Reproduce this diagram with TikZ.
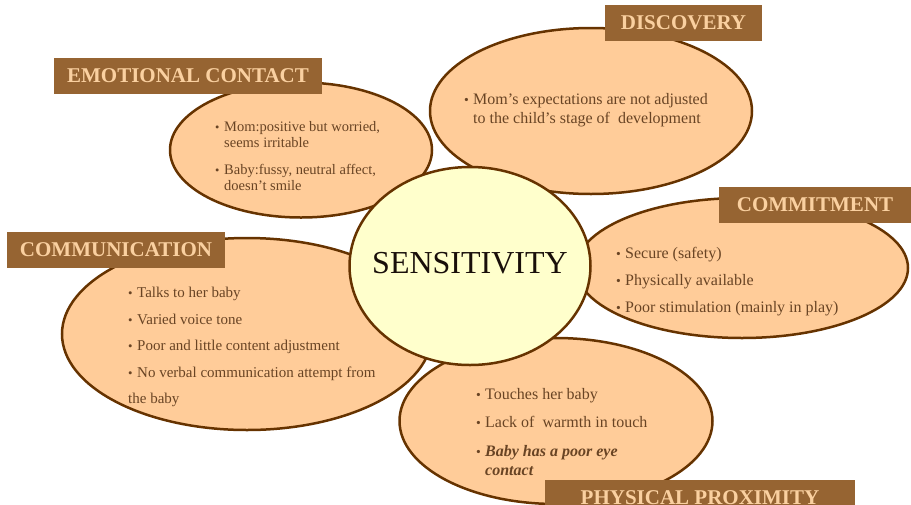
\documentclass[tikz,border=0pt]{standalone}
\usepackage{fontspec}
\setmainfont{Liberation Serif}
\usetikzlibrary{shapes.geometric}
\definecolor{petalFill}{RGB}{255,204,153}
\definecolor{hubFill}{RGB}{255,255,204}
\definecolor{rimBrown}{RGB}{102,51,0}
\definecolor{tagBrown}{RGB}{150,100,50}
\definecolor{tagText}{RGB}{250,208,160}
\definecolor{noteText}{RGB}{105,68,36}
\definecolor{hubText}{RGB}{25,15,10}
\newcommand{\bul}{\makebox[9pt][l]{\scalebox{.85}{\textbullet}}}
\newcommand{\bulind}{\hphantom{\bul}}

\begin{document}
\begin{tikzpicture}[
  x=1pt, y=-1pt,
  petal/.style = {ellipse, draw=rimBrown, line width=2.5pt,
                  fill=petalFill, inner sep=0pt},
  hub/.style   = {ellipse, draw=rimBrown, line width=2.5pt,
                  fill=hubFill, inner sep=0pt},
  tag/.style   = {rectangle, fill=tagBrown, text=tagText, inner sep=0pt,
                  minimum height=36pt,
                  font=\bfseries\fontsize{21}{21}\selectfont},
  note/.style  = {anchor=north west, inner sep=0pt, align=left,
                  text=noteText}
]
\path[use as bounding box, clip] (0,0) rectangle (911,504);

% Petals, back to front
\node[petal, minimum width=262pt, minimum height=135pt] (emo)  at (301,150) {};
\node[petal, minimum width=322pt, minimum height=166pt] (disc) at (591,111) {};
\node[petal, minimum width=370pt, minimum height=192pt] (comm) at (247,334) {};
\node[petal, minimum width=332pt, minimum height=140pt] (cmit) at (742,268) {};
\node[petal, minimum width=313pt, minimum height=166pt] (phys) at (556,421) {};

% Centre of the flower
\node[hub, minimum width=241pt, minimum height=198pt] (sens) at (470,266) {};
\node[text=hubText, font=\fontsize{32}{32}\selectfont, inner sep=0pt] (sensTxt) at ([yshift=3pt]sens.center) {SENSITIVITY};

% Bullet texts inside the petals
\node[note, font=\fontsize{14.5}{16}\selectfont] (emoTxt) at (215,121)
  {\bul Mom:positive but worried,\\\bulind seems irritable\\[11pt]\bul Baby:fussy, neutral affect,\\\bulind doesn't smile};
\node[note, font=\fontsize{16}{19}\selectfont] (discTxt) at (464,93)
  {\bul Mom's expectations are not adjusted\\\bulind to the child's stage of\ \ development};
\node[note, font=\fontsize{16}{26.7}\selectfont] (cmitTxt) at (616,247.5)
  {\bul Secure (safety)\\\bul Physically available\\\bul Poor stimulation (mainly in play)};
\node[note, font=\fontsize{15}{26.5}\selectfont] (commTxt) at (128,287)
  {\bul Talks to her baby\\\bul Varied voice tone\\\bul Poor and little content adjustment\\\bul No verbal communication attempt from\\the baby};
\node[note, font=\fontsize{16}{19}\selectfont] (physTxt) at (476,388)
  {\bul Touches her baby\\[9pt]\bul Lack of\ \ warmth in touch\\[10pt]\bul \textbf{\textit{Baby has a poor eye}}\\\bulind\textbf{\textit{contact}}};

% Heading tags
\node[tag, minimum width=268pt] (emoTag)  at (188,75.5) {EMOTIONAL CONTACT};
\node[tag, minimum width=157pt] (discTag) at (683.5,23) {DISCOVERY};
\node[tag, minimum width=218pt] (commTag) at (116,250)  {COMMUNICATION};
\node[tag, minimum width=192pt] (cmitTag) at (815,205)  {COMMITMENT};
\node[tag, minimum width=310pt] (physTag) at (700,498)  {PHYSICAL PROXIMITY};

\end{tikzpicture}
\end{document}
